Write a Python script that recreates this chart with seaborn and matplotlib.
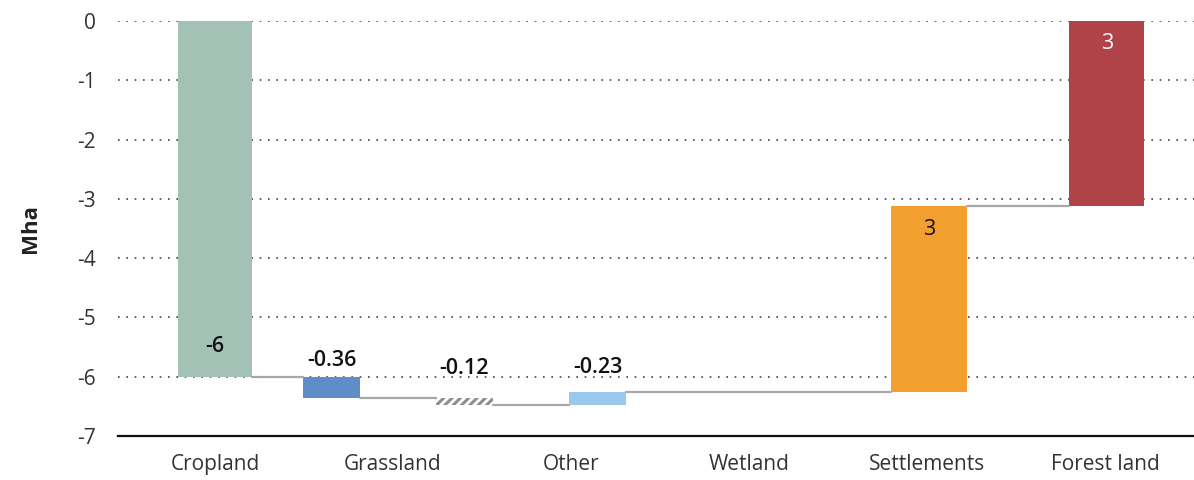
import matplotlib
matplotlib.use("Agg")
import matplotlib.pyplot as plt
import seaborn as sns

# land-use change waterfall (Mha)
categories = ["Cropland", "Grassland", "Other", "Wetland", "Settlements", "Forest land"]
changes = [-6.0, -0.36, -0.12, 0.23, 3.13, 3.12]
value_labels = ["-6", "-0.36", "-0.12", "-0.23", "3", "3"]
bar_colors = ["#a3c1b4", "#5f8dc8", "#ffffff", "#99caee", "#f39f2f", "#b04347"]

# bar centres / widths in category units (small bars sit left of their tick)
bar_pos = [0, 0.655, 1.40, 2.15, 4.01, 5.01]
bar_width = [0.42, 0.32, 0.32, 0.32, 0.43, 0.42]

sns.set_style("white")
plt.rcParams["font.family"] = ["Open Sans", "DejaVu Sans"]
plt.rcParams["hatch.linewidth"] = 2.2

fig = plt.figure(figsize=(11.94, 4.8), dpi=100)
ax = fig.add_axes([0.0988, 0.0917, 0.9012, 0.8646])

# cumulative starts / ends
starts = []
total = 0.0
for c in changes:
    starts.append(total)
    total += c
ends = [s + c for s, c in zip(starts, changes)]

for i in range(len(categories)):
    sns.barplot(x=[bar_pos[i]], y=[changes[i]], bottom=starts[i], width=bar_width[i],
                native_scale=True, color=bar_colors[i], saturation=1, ax=ax,
                linewidth=0)
    patch = ax.patches[-1]
    patch.set_facecolor(bar_colors[i])
    patch.set_edgecolor("none")
    if categories[i] == "Other":
        patch.set_facecolor("white")
        patch.set_edgecolor("#8e8e8e")
        patch.set_hatch("////")
        patch.set_linewidth(0)

# connector lines between bars
for i in range(len(categories) - 1):
    x0 = bar_pos[i] + bar_width[i] / 2
    x1 = bar_pos[i + 1] - bar_width[i + 1] / 2
    ax.plot([x0, x1], [ends[i], ends[i]], color="#a8a8a8", lw=1.6, zorder=3)

# value labels
lab_kw = dict(fontsize=15.5, ha="center", va="center", annotation_clip=False)
ax.annotate(value_labels[0], (bar_pos[0], ends[0]), xytext=(0, 22), textcoords="offset points",
            fontweight="semibold", color="#111111", **lab_kw)
small_off = [12, 21, 17]
for j, i in enumerate([1, 2, 3]):
    top = max(starts[i], ends[i])
    ax.annotate(value_labels[i], (bar_pos[i], top), xytext=(0, small_off[j]),
                textcoords="offset points", fontweight="semibold", color="#111111", **lab_kw)
ax.annotate(value_labels[4], (bar_pos[4], ends[4]), xytext=(0, -17), textcoords="offset points",
            color="#111111", **lab_kw)
ax.annotate(value_labels[5], (bar_pos[5], ends[5]), xytext=(0, -16), textcoords="offset points",
            color="white", **lab_kw)

ax.set_xlim(-0.545, 5.5)
ax.set_ylim(-7, 0)
ax.set_xticks(range(len(categories)))
ax.set_xticklabels(categories)
ax.set_yticks(range(-7, 1))
ax.set_yticklabels([str(v) for v in range(-7, 1)])
ax.tick_params(axis="both", length=0, labelsize=15, colors="#333333")
ax.tick_params(axis="y", pad=16)
ax.tick_params(axis="x", pad=13)

ax.yaxis.grid(True, linestyle=(0, (1, 4)), color="#444444", lw=1.2)
ax.xaxis.grid(False)
ax.set_axisbelow(True)

for s in ["top", "right", "left"]:
    ax.spines[s].set_visible(False)
ax.spines["bottom"].set_color("#111111")
ax.spines["bottom"].set_linewidth(1.6)

ax.set_xlabel("")
ax.set_ylabel("Mha", fontsize=16, fontweight="bold", color="#222222", labelpad=26)

fig.savefig("out.png", dpi=100)
